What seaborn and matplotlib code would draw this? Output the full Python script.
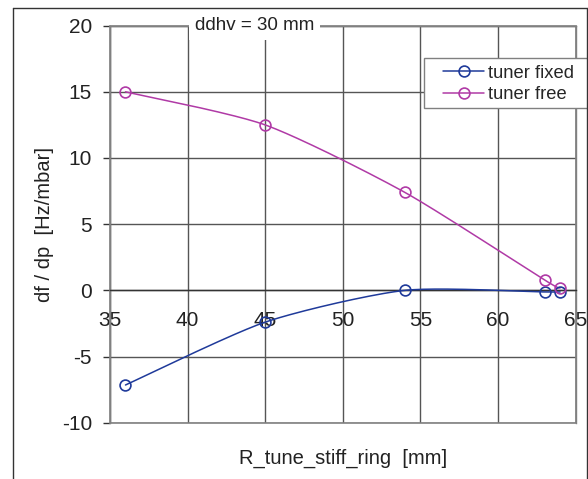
"""Recreate the df/dp vs R_tune_stiff_ring chart (Excel-style, smoothed lines)."""

import matplotlib
matplotlib.use("Agg")
import matplotlib.pyplot as plt
import numpy as np
import seaborn as sns
from matplotlib.lines import Line2D
from matplotlib.patches import Rectangle

# data
r_ring = [36, 45, 54, 63, 64]
tuner_fixed = [-7.15, -2.4, 0.0, -0.12, -0.12]
tuner_free = [15.0, 12.5, 7.4, 0.78, 0.18]
x_ticks = [35, 40, 45, 50, 55, 60, 65]
y_ticks = [-10, -5, 0, 5, 10, 15, 20]

BLUE = "#1f3a9a"
MAGENTA = "#b03aa6"
GRID = "#555555"
FRAME = "#808080"
TEXT = "#222222"

sns.set_theme(style="white")
plt.rcParams["font.family"] = ["Liberation Sans", "DejaVu Sans"]
plt.rcParams["axes.unicode_minus"] = False


def _smooth(x, y, n=40, tension=0.35):
    # cardinal spline through the points (roughly what Excel "smoothed line" does)
    x = np.asarray(x, float)
    y = np.asarray(y, float)
    px = np.concatenate([[x[0]], x, [x[-1]]])
    py = np.concatenate([[y[0]], y, [y[-1]]])
    t = np.linspace(0, 1, n)
    h00 = 2 * t**3 - 3 * t**2 + 1
    h10 = t**3 - 2 * t**2 + t
    h01 = -2 * t**3 + 3 * t**2
    h11 = t**3 - t**2
    xs, ys = [], []
    for i in range(1, len(px) - 2):
        for p, out in ((px, xs), (py, ys)):
            m1 = tension * (p[i + 1] - p[i - 1])
            m2 = tension * (p[i + 2] - p[i])
            out.extend(h00 * p[i] + h10 * m1 + h01 * p[i + 1] + h11 * m2)
    return np.array(xs), np.array(ys)


fig = plt.figure(figsize=(5.88, 4.79), dpi=100)
ax = fig.add_axes([0.187, 0.1175, 0.792, 0.829])

for vals, color in ((tuner_fixed, BLUE), (tuner_free, MAGENTA)):
    sx, sy = _smooth(r_ring, vals)
    sns.lineplot(x=sx, y=sy, sort=False, color=color, linewidth=1.1, ax=ax, zorder=3)
    ax.plot(r_ring, vals, "o", ms=7.8, mfc="none", mec=color, mew=1.2, zorder=4, clip_on=False)

ax.set_xlim(x_ticks[0], x_ticks[-1])
ax.set_ylim(y_ticks[0], y_ticks[-1])
ax.set_xticks(x_ticks)
ax.set_yticks(y_ticks)

ax.grid(True, color=GRID, linewidth=1.0)
ax.set_axisbelow(True)

# frame of the plot area; bottom axis crosses at zero like Excel
for side in ("left", "right", "top"):
    ax.spines[side].set_visible(True)
    ax.spines[side].set_color(FRAME)
    ax.spines[side].set_linewidth(1.0)
ax.spines["bottom"].set_position(("data", 0))
ax.spines["bottom"].set_color("#333333")
ax.spines["bottom"].set_linewidth(1.0)
ax.add_patch(Rectangle((0, 0), 1, 1, transform=ax.transAxes, fill=False,
                       edgecolor=FRAME, linewidth=1.2, clip_on=False, zorder=2))

ax.tick_params(axis="y", direction="out", length=5, width=1, color="#333333",
               left=True, pad=8, labelsize=15, labelcolor=TEXT)
ax.tick_params(axis="x", length=0, pad=15, labelsize=15, labelcolor=TEXT)

ax.set_ylabel("df / dp  [Hz/mbar]", fontsize=14.5, color=TEXT)
ax.yaxis.set_label_coords(-0.12, 0.5)
ax.set_xlabel("R_tune_stiff_ring  [mm]", fontsize=14.5, color=TEXT)
ax.xaxis.set_label_coords(0.5, -0.066)

ax.text(0.311, 1.0, "ddhv = 30 mm", transform=ax.transAxes, ha="center", va="center",
        fontsize=13.5, color=TEXT, zorder=10, clip_on=False,
        bbox=dict(facecolor="white", edgecolor="none", pad=4))

# Excel-style legend box: wide frame running to the chart edge
ax.add_patch(Rectangle((0.674, 0.7927), 0.36, 0.126, transform=ax.transAxes,
                       facecolor="white", edgecolor=FRAME, linewidth=1.0,
                       clip_on=False, zorder=9))
handles = [
    Line2D([], [], color=BLUE, lw=1.1, marker="o", ms=7.8, mfc="none", mew=1.2),
    Line2D([], [], color=MAGENTA, lw=1.1, marker="o", ms=7.8, mfc="none", mew=1.2),
]
leg = ax.legend(handles, ["tuner fixed", "tuner free"], loc="upper left",
                bbox_to_anchor=(0.716, 0.902), fontsize=13.2, frameon=False,
                handlelength=2.2, handletextpad=0.25, labelspacing=0.25,
                borderpad=0, borderaxespad=0)
leg.set_zorder(10)

# outer chart-area border
for xy in (([0.022, 0.022], [0.0, 0.983]), ([0.022, 0.998], [0.983, 0.983]),
           ([0.998, 0.998], [0.0, 0.983])):
    fig.add_artist(Line2D(xy[0], xy[1], transform=fig.transFigure, color="#333333", lw=1.0))

fig.savefig("out.png", dpi=100)
